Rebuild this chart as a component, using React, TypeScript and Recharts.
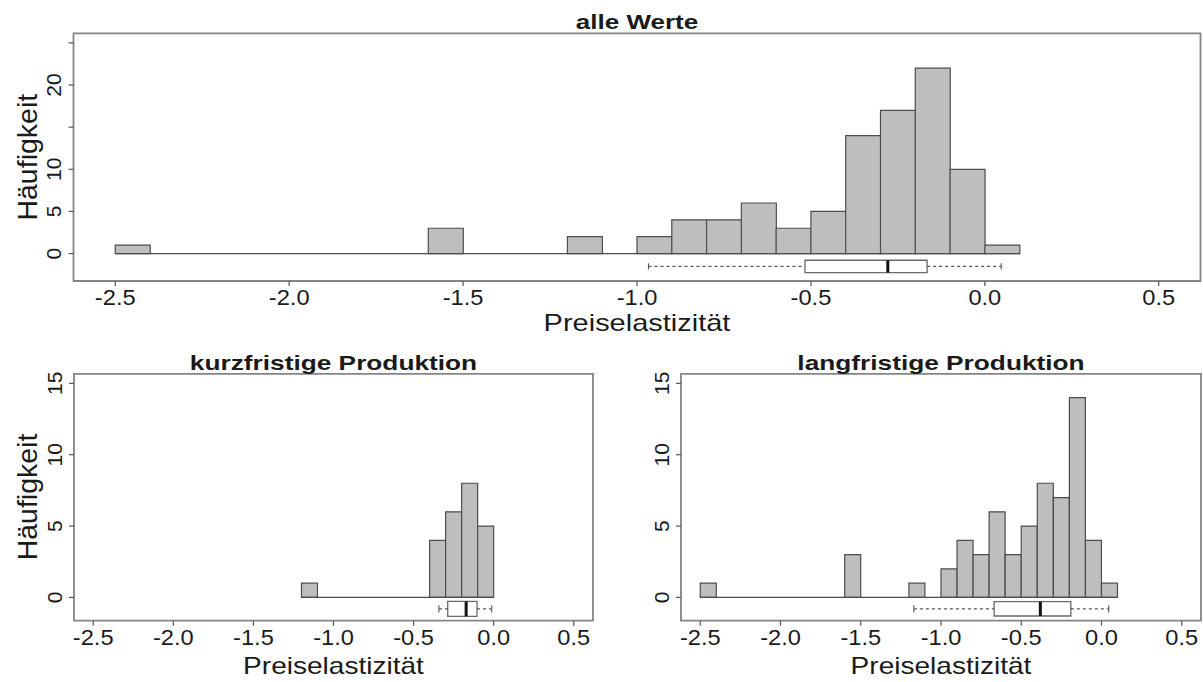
import React from 'react';
import { ComposedChart, Bar, XAxis, YAxis, ReferenceArea, ReferenceLine } from 'recharts';

// ---------- data ----------
const BIN_WIDTH = 0.1;
const X_TICKS = [-2.5, -2.0, -1.5, -1.0, -0.5, 0.0, 0.5];
const X_DOMAIN: [number, number] = [-2.62, 0.62];

// alle Werte
const allBinStarts = [-2.5, -1.6, -1.2, -1.0, -0.9, -0.8, -0.7, -0.6, -0.5, -0.4, -0.3, -0.2, -0.1, 0.0];
const allCounts = [1, 3, 2, 2, 4, 4, 6, 3, 5, 14, 17, 22, 10, 1];
const allRange = [-2.5, 0.1];
// lower whisker, Q1, median, Q3, upper whisker
const allBox = [-0.967, -0.517, -0.279, -0.166, 0.047];
const allYTicks = [0, 5, 10, 15, 20, 25];
const allYLabels = ['0', '5', '10', '', '20', ''];

// kurzfristige Produktion
const shortBinStarts = [-1.2, -0.4, -0.3, -0.2, -0.1];
const shortCounts = [1, 4, 6, 8, 5];
const shortRange = [-1.2, 0.0];
const shortBox = [-0.342, -0.287, -0.172, -0.104, -0.012];

// langfristige Produktion
const longBinStarts = [-2.5, -1.6, -1.2, -1.0, -0.9, -0.8, -0.7, -0.6, -0.5, -0.4, -0.3, -0.2, -0.1, 0.0];
const longCounts = [1, 3, 1, 2, 4, 3, 6, 3, 5, 8, 7, 14, 4, 1];
const longRange = [-2.5, 0.1];
const longBox = [-1.169, -0.669, -0.381, -0.191, 0.045];

const smallYTicks = [0, 5, 10, 15];
const smallYLabels = ['0', '5', '10', '15'];

const TITLE_ALL = 'alle Werte';
const TITLE_SHORT = 'kurzfristige Produktion';
const TITLE_LONG = 'langfristige Produktion';
const X_TITLE = 'Preiselastizität';
const Y_TITLE = 'Häufigkeit';

// ---------- styles ----------
const FONT = '"Liberation Sans", Arial, Helvetica, sans-serif';
const TEXT = '#1a1a1a';
const BAR_FILL = '#bebebe';
const BAR_STROKE = '#4d4d4d';
const FRAME = '#858585';
const XH = 40;

type PanelProps = {
  left: number;
  top: number;
  width: number;
  height: number;
  plotLeft: number;
  plotRight: number;
  plotTop: number;
  plotBottom: number;
  yDomain: [number, number];
  binStarts: number[];
  counts: number[];
  range: number[];
  box: number[];
  boxCenter: number;
  boxHalf: number;
  yTicks: number[];
  yLabels: string[];
};

const XTick = (props: any) => {
  const { x, y, payload } = props;
  return (
    <text
      transform={`translate(${x},${y + 17}) scale(1.1,1)`}
      textAnchor="middle"
      fontSize={21.5}
      fontFamily={FONT}
      fill={TEXT}
    >
      {Number(payload.value).toFixed(1)}
    </text>
  );
};

const makeYTick = (ticks: number[], labels: string[]) => (props: any) => {
  const { x, y, payload } = props;
  const idx = ticks.indexOf(payload.value);
  const label = idx >= 0 ? labels[idx] : '';
  if (!label) return <g />;
  return (
    <text
      transform={`translate(${x - 5.5},${y}) rotate(-90)`}
      textAnchor="middle"
      fontSize={21}
      fontFamily={FONT}
      fill={TEXT}
    >
      {label}
    </text>
  );
};

function Panel(p: PanelProps) {
  const data = p.binStarts.map((s, i) => ({ x: s + BIN_WIDTH / 2, count: p.counts[i] }));
  const [lw, q1, med, q3, uw] = p.box;
  const c = p.boxCenter;
  const h = p.boxHalf;
  const cap = h * 0.5;
  return (
    <div style={{ position: 'absolute', left: p.left, top: p.top }}>
      <ComposedChart
        width={p.width}
        height={p.height}
        data={data}
        barCategoryGap={0}
        barGap={0}
        margin={{
          top: p.plotTop,
          right: p.width - p.plotRight,
          bottom: p.height - p.plotBottom - XH,
          left: 0,
        }}
      >
        <XAxis
          type="number"
          dataKey="x"
          domain={X_DOMAIN}
          ticks={X_TICKS}
          allowDataOverflow
          interval={0}
          height={XH}
          tickSize={5}
          tickMargin={2}
          axisLine={false}
          tickLine={{ stroke: '#555', strokeWidth: 1.2 }}
          tick={(tp: any) => <XTick {...tp} />}
        />
        <YAxis
          type="number"
          domain={p.yDomain}
          ticks={p.yTicks}
          allowDataOverflow
          interval={0}
          width={p.plotLeft}
          tickSize={5}
          tickMargin={2}
          axisLine={false}
          tickLine={{ stroke: '#555', strokeWidth: 1.2 }}
          tick={makeYTick(p.yTicks, p.yLabels)}
        />
        <ReferenceArea
          x1={X_DOMAIN[0]}
          x2={X_DOMAIN[1]}
          y1={p.yDomain[0]}
          y2={p.yDomain[1]}
          fill="none"
          stroke={FRAME}
          strokeWidth={1.8}
          ifOverflow="visible"
        />
        <ReferenceLine
          segment={[{ x: p.range[0], y: 0 }, { x: p.range[1], y: 0 }]}
          stroke={BAR_STROKE}
          strokeWidth={1.3}
        />
        <Bar
          dataKey="count"
          fill={BAR_FILL}
          stroke={BAR_STROKE}
          strokeWidth={1.2}
          isAnimationActive={false}
        />
        {/* boxplot whiskers */}
        <ReferenceLine segment={[{ x: lw, y: c }, { x: q1, y: c }]} stroke="#555" strokeWidth={1.1} strokeDasharray="3 3" />
        <ReferenceLine segment={[{ x: q3, y: c }, { x: uw, y: c }]} stroke="#555" strokeWidth={1.1} strokeDasharray="3 3" />
        <ReferenceLine segment={[{ x: lw, y: c - cap }, { x: lw, y: c + cap }]} stroke="#555" strokeWidth={1.1} />
        <ReferenceLine segment={[{ x: uw, y: c - cap }, { x: uw, y: c + cap }]} stroke="#555" strokeWidth={1.1} />
        <ReferenceArea
          x1={q1}
          x2={q3}
          y1={c - h}
          y2={c + h}
          fill="#ffffff"
          fillOpacity={1}
          stroke="#6a6a6a"
          strokeWidth={1.3}
          ifOverflow="visible"
        />
        <ReferenceLine segment={[{ x: med, y: c - h }, { x: med, y: c + h }]} stroke="#111" strokeWidth={3} />
      </ComposedChart>
    </div>
  );
}

const StretchText = ({ x, y, sx = 1, size, bold = false, rotate = false, children }: any) => (
  <text
    transform={`translate(${x},${y}) scale(${sx},1)${rotate ? ' rotate(-90)' : ''}`}
    textAnchor="middle"
    fontSize={size}
    fontWeight={bold ? 'bold' : 'normal'}
    fontFamily={FONT}
    fill={TEXT}
  >
    {children}
  </text>
);

export default function App() {
  return (
    <div style={{ position: 'absolute', left: 0, top: 0, width: 1203, height: 682, background: '#fff' }}>
      <Panel
        left={0}
        top={0}
        width={1203}
        height={340}
        plotLeft={73.5}
        plotRight={1200.5}
        plotTop={33.3}
        plotBottom={281}
        yDomain={[-3.26, 26.14]}
        binStarts={allBinStarts}
        counts={allCounts}
        range={allRange}
        box={allBox}
        boxCenter={-1.53}
        boxHalf={0.73}
        yTicks={allYTicks}
        yLabels={allYLabels}
      />
      <Panel
        left={0}
        top={340}
        width={600}
        height={342}
        plotLeft={74}
        plotRight={593}
        plotTop={33.8}
        plotBottom={280.7}
        yDomain={[-1.63, 15.67]}
        binStarts={shortBinStarts}
        counts={shortCounts}
        range={shortRange}
        box={shortBox}
        boxCenter={-0.8}
        boxHalf={0.52}
        yTicks={smallYTicks}
        yLabels={smallYLabels}
      />
      <Panel
        left={600}
        top={340}
        width={603}
        height={342}
        plotLeft={81}
        plotRight={601}
        plotTop={33.8}
        plotBottom={280.7}
        yDomain={[-1.63, 15.67]}
        binStarts={longBinStarts}
        counts={longCounts}
        range={longRange}
        box={longBox}
        boxCenter={-0.8}
        boxHalf={0.5}
        yTicks={smallYTicks}
        yLabels={smallYLabels}
      />
      <svg
        width={1203}
        height={682}
        style={{ position: 'absolute', left: 0, top: 0, pointerEvents: 'none' }}
      >
        <StretchText x={637} y={28.5} sx={1.24} size={21} bold>{TITLE_ALL}</StretchText>
        <StretchText x={637} y={331} sx={1.26} size={23}>{X_TITLE}</StretchText>
        <StretchText x={36.5} y={157.2} size={28.5} rotate>{Y_TITLE}</StretchText>

        <StretchText x={333.5} y={370} sx={1.25} size={21} bold>{TITLE_SHORT}</StretchText>
        <StretchText x={333.5} y={674} sx={1.22} size={23}>{X_TITLE}</StretchText>
        <StretchText x={36.5} y={497} size={28.5} rotate>{Y_TITLE}</StretchText>

        <StretchText x={941} y={370} sx={1.25} size={21} bold>{TITLE_LONG}</StretchText>
        <StretchText x={941} y={674} sx={1.22} size={23}>{X_TITLE}</StretchText>
      </svg>
    </div>
  );
}
